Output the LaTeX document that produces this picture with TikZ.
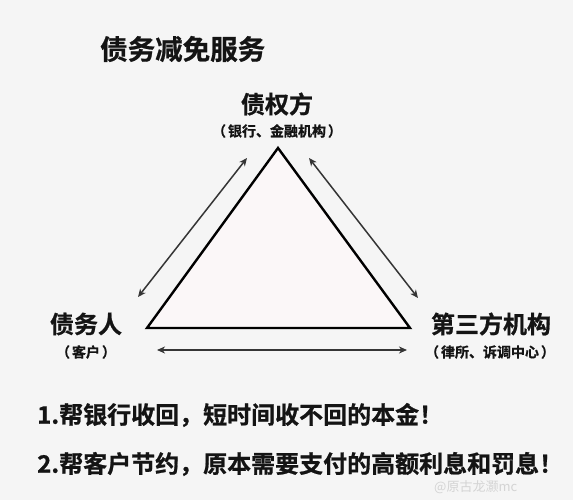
\documentclass[tikz,border=0pt]{standalone}
\usepackage{fontspec}
\newfontfamily\cjk[FakeBold=0.8]{Noto Sans CJK SC Bold}
\newfontfamily\cjkr{Noto Sans CJK SC}
\usetikzlibrary{arrows.meta}
\definecolor{bgc}{HTML}{F5F5F5}
\definecolor{ink}{HTML}{141414}
\definecolor{arr}{HTML}{353535}
\definecolor{pinkfill}{HTML}{FBF7F8}
\definecolor{wm}{HTML}{D4D4D4}
\tikzset{
  big/.style={font=\cjk\fontsize{24}{26}\selectfont, text=ink, inner sep=0pt},
  small/.style={font=\cjk\fontsize{14}{16}\selectfont, text=ink, inner sep=0pt},
  bodyline/.style={font=\cjk\fontsize{24}{26}\selectfont, text=ink, inner sep=0pt, anchor=west},
  dbl/.style={draw=arr, line width=1.5pt, {Stealth[length=8pt,width=7pt,inset=2.5pt]}-{Stealth[length=8pt,width=7pt,inset=2.5pt]}},
  tri/.style={draw=black, line width=2.4pt, line join=miter, fill=pinkfill},
}
\begin{document}
\begin{tikzpicture}[x=1pt,y=-1pt]
\fill[bgc] (0,0) rectangle (573,500);
\useasboundingbox (0,0) rectangle (573,500);

\node[font=\cjk\fontsize{27.5}{29}\selectfont, text=ink, inner sep=0pt, anchor=west] (title) at (100,49) {债务减免服务};

\node[big] (creditor) at (277,104) {债权方};
\node[small] (creditorsub) at (277,131) {（\hspace{2pt}银行、金融机构\hspace{2pt}）};
\node[big] (debtor) at (86,324) {债务人};
\node[small] (debtorsub) at (86,352) {（\hspace{2pt}客户\hspace{2pt}）};
\node[big] (third) at (491,324) {第三方机构};
\node[small] (thirdsub) at (490,352) {（\hspace{2pt}律所、诉调中心\hspace{2pt}）};

\coordinate (A) at (278,148);
\coordinate (B) at (147,328);
\coordinate (C) at (410,328);
\draw[tri] (A) -- (B) -- (C) -- cycle;

\coordinate (l1) at (138,297);
\coordinate (l2) at (247,158);
\coordinate (r1) at (309,158);
\coordinate (r2) at (418,298);
\coordinate (b1) at (157,350);
\coordinate (b2) at (407,350);
\draw[dbl] (l1) -- (l2);
\draw[dbl] (r1) -- (r2);
\draw[dbl] (b1) -- (b2);

\node[bodyline] (line1) at (37,415) {1.帮银行收回，短时间收不回的本金！};
\node[bodyline] (line2) at (37,464) {2.帮客户节约，原本需要支付的高额利息和罚息！};

\node[font=\cjkr\fontsize{13}{15}\selectfont, text=wm, inner sep=0pt, anchor=west] (mark) at (434,487) {@原古龙灏mc};
\end{tikzpicture}
\end{document}
